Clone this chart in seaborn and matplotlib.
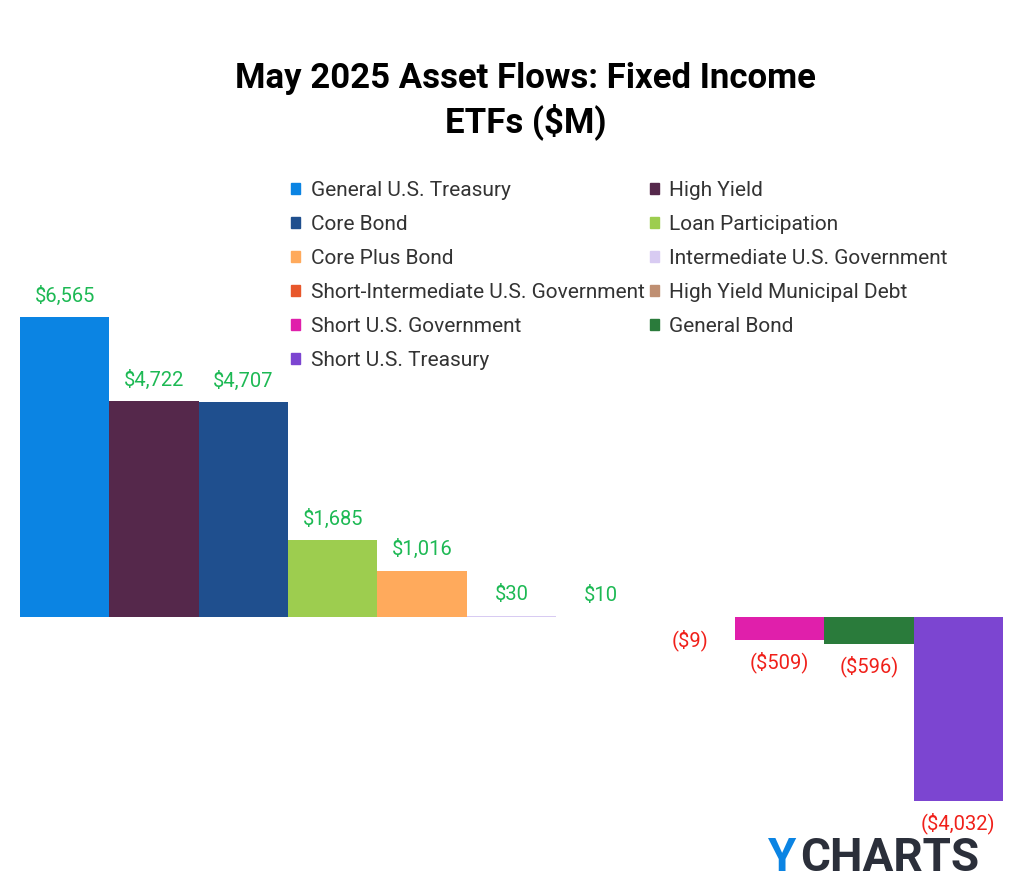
import matplotlib
matplotlib.use("Agg")
import matplotlib.pyplot as plt
from matplotlib.patches import Patch
import seaborn as sns
import pandas as pd

plt.rcParams["font.family"] = "Roboto"

categories = ["General U.S. Treasury", "High Yield", "Core Bond", "Loan Participation",
              "Core Plus Bond", "Intermediate U.S. Government", "Short-Intermediate U.S. Government",
              "High Yield Municipal Debt", "Short U.S. Government", "General Bond", "Short U.S. Treasury"]
values = [6565, 4722, 4707, 1685, 1016, 30, 10, -9, -509, -596, -4032]
colors = ["#0B84E3", "#55284B", "#1F4F8E", "#9DCD4F", "#FFAA5C", "#D8CBF2", "#E8572B",
          "#BF8F72", "#E01FAB", "#2A7B3B", "#7C45D1"]
labels = ["$6,565", "$4,722", "$4,707", "$1,685", "$1,016", "$30", "$10",
          "($9)", "($509)", "($596)", "($4,032)"]

df = pd.DataFrame({"cat": categories, "val": values})
fig = plt.figure(figsize=(10.24, 8.93), dpi=100)
ax = fig.add_axes([20/1024, 1-840/893, 983/1024, 590/893])
sns.barplot(data=df, x="cat", y="val", hue="cat", palette=colors, width=1.0,
            legend=False, ax=ax, saturation=1)
ax.set_xlim(-0.5, 10.5)
ax.set_ylim(-4880, 8031)
ax.axis("off")
for i, (v, t) in enumerate(zip(values, labels)):
    if v >= 0:
        ax.text(i, v + 250, t, ha="center", va="bottom", color="#1DB954", fontsize=14.5)
    else:
        ax.text(i, v - 250, t, ha="center", va="top", color="#F0201A", fontsize=14.5)

fig.text(0.513, 1-101/893, "May 2025 Asset Flows: Fixed Income\nETFs ($M)", ha="center",
         va="center", fontsize=25, fontweight="bold", linespacing=1.3)

order = [0, 2, 4, 6, 8, 10, 1, 3, 5, 7, 9]
handles = [Patch(color=colors[i], label=categories[i]) for i in order]
fig.legend(handles=handles, ncol=2, loc="upper left", bbox_to_anchor=(272/1024, 1-162/893),
           frameon=False, fontsize=15, handlelength=0.45, handleheight=0.45,
           columnspacing=0.25, labelspacing=0.72, handletextpad=0.5, labelcolor="#333333")

fig.text(768/1024, 1-858/893, "Y", color="#0B84E3", fontsize=33, fontweight="bold", va="center")
fig.text(800/1024, 1-858/893, "CHARTS", color="#2B2F3A", fontsize=33, fontweight="bold", va="center")
fig.savefig("out.png", dpi=100)
